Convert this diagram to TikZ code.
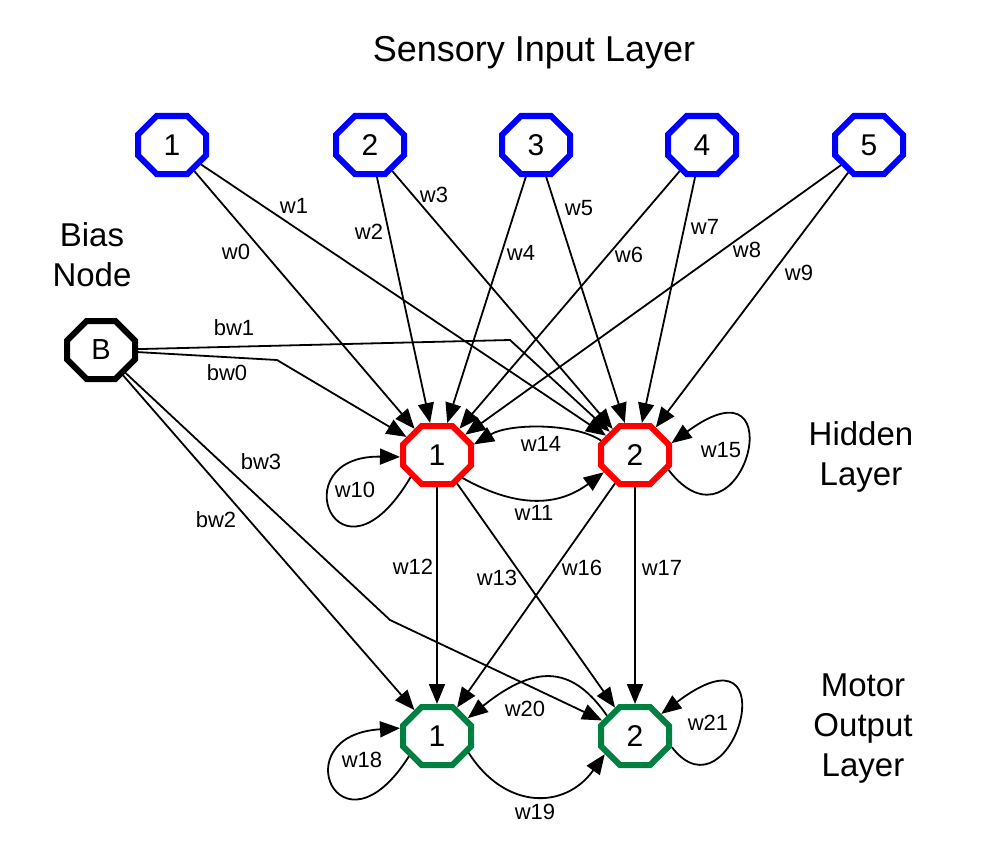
\documentclass[tikz,border=0pt]{standalone}
\usepackage{fontspec}
\setmainfont{Liberation Sans}
\usetikzlibrary{shapes.misc, arrows.meta, positioning}
\definecolor{sensblue}{RGB}{0,0,255}
\definecolor{hidred}{RGB}{255,0,0}
\definecolor{motgreen}{RGB}{0,128,64}

\begin{document}
\begin{tikzpicture}[x=1pt,y=-1pt,
        neuron/.style={chamfered rectangle, chamfered rectangle xsep=18pt,
            chamfered rectangle ysep=17pt, draw, line width=6pt,
            minimum width=68pt, minimum height=58pt, inner sep=0pt, fill=white,
            font=\fontsize{30}{34}\selectfont},
        wire/.style={-{Triangle[length=20pt,width=16pt]}, line width=1.8pt},
        wlabel/.style={inner sep=0pt, font=\fontsize{22}{26}\selectfont},
        layer/.style={align=center, inner sep=0pt, font=\fontsize{33}{40}\selectfont}]
        \useasboundingbox (0,0) rectangle (1000,840);

        % Sensory input layer
        \node[layer, anchor=base, font=\fontsize{36}{42}\selectfont] (tsense) at (534,62) {Sensory Input Layer};
        \foreach \i/\x in {1/172,2/370,3/536,4/702,5/869}
            \node[neuron, draw=sensblue] (in\i) at (\x,145) {\i};

        % Bias node
        \node[layer] (tbias) at (92,255) {Bias\\Node};
        \node[neuron, font=\fontsize{29}{34}\selectfont] (bias) at (101,350) {B};

        % Hidden layer
        \node[neuron, draw=hidred] (h1) at (437,455) {1};
        \node[neuron, draw=hidred] (h2) at (635,455) {2};
        \node[layer] (thid) at (861,457) {Hidden\\Layer};

        % Motor output layer
        \node[neuron, draw=motgreen] (o1) at (437,736) {1};
        \node[neuron, draw=motgreen] (o2) at (635,736) {2};
        \node[layer] (tmot) at (863,729) {Motor\\Output\\Layer};

        % Input to hidden weights
        \foreach \i in {1,...,5} {
            \draw[wire] (in\i) -- (h1);
            \draw[wire] (in\i) -- (h2);
        }

        % Bias weights
        \coordinate (kb0) at (277,360);
        \coordinate (kb1) at (510,340);
        \coordinate (kb3) at (390,620);
        \draw[wire] (bias) -- (kb0) -- (h1);
        \draw[wire] (bias) -- (kb1) -- (h2);
        \draw[wire] (bias) -- (o1);
        \draw[wire] (bias) -- (kb3) -- (o2);

        % Hidden recurrent weights
        \draw[wire] (h1.220) .. controls (338,600) and (280,455) .. (h1.183);
        \draw[wire] (h1.318) .. controls (520,510) and (560,505) .. (h2.209);
        \draw[wire] (h2.157) .. controls (575,423) and (510,423) .. (h1.16);
        \draw[wire] (h2.336) .. controls (742,565) and (798,350) .. (h2.18);

        % Hidden to output weights
        \draw[wire] (h1) -- (o1);
        \draw[wire] (h1) -- (o2);
        \draw[wire] (h2) -- (o1);
        \draw[wire] (h2) -- (o2);

        % Output recurrent weights
        \draw[wire] (o1.216) .. controls (340,865) and (282,735) .. (o1.168);
        \draw[wire] (o1.332) .. controls (505,810) and (565,810) .. (o2.211);
        \draw[wire] (o2.144) .. controls (575,670) and (540,660) .. (o1.30);
        \draw[wire] (o2.343) .. controls (732,825) and (792,615) .. (o2.40);

        % Labeling
        \node[wlabel] (lw0) at (236,252) {w0};
        \node[wlabel] (lw1) at (294,206) {w1};
        \node[wlabel] (lw2) at (369,232) {w2};
        \node[wlabel] (lw3) at (434,195) {w3};
        \node[wlabel] (lw4) at (521,253) {w4};
        \node[wlabel] (lw5) at (579,208) {w5};
        \node[wlabel] (lw6) at (629,255) {w6};
        \node[wlabel] (lw7) at (705,227) {w7};
        \node[wlabel] (lw8) at (747,250) {w8};
        \node[wlabel] (lw9) at (799,273) {w9};
        \node[wlabel] (lbw0) at (227,373) {bw0};
        \node[wlabel] (lbw1) at (234,328) {bw1};
        \node[wlabel] (lbw2) at (216,520) {bw2};
        \node[wlabel] (lbw3) at (261,462) {bw3};
        \node[wlabel] (lw10) at (355,490) {w10};
        \node[wlabel] (lw11) at (534,513) {w11};
        \node[wlabel] (lw12) at (413,567) {w12};
        \node[wlabel] (lw13) at (497,578) {w13};
        \node[wlabel] (lw14) at (541,444) {w14};
        \node[wlabel] (lw15) at (721,450) {w15};
        \node[wlabel] (lw16) at (582,568) {w16};
        \node[wlabel] (lw17) at (662,568) {w17};
        \node[wlabel] (lw18) at (362,760) {w18};
        \node[wlabel] (lw19) at (535,812) {w19};
        \node[wlabel] (lw20) at (525,709) {w20};
        \node[wlabel] (lw21) at (708,723) {w21};
    \end{tikzpicture}
\end{document}
